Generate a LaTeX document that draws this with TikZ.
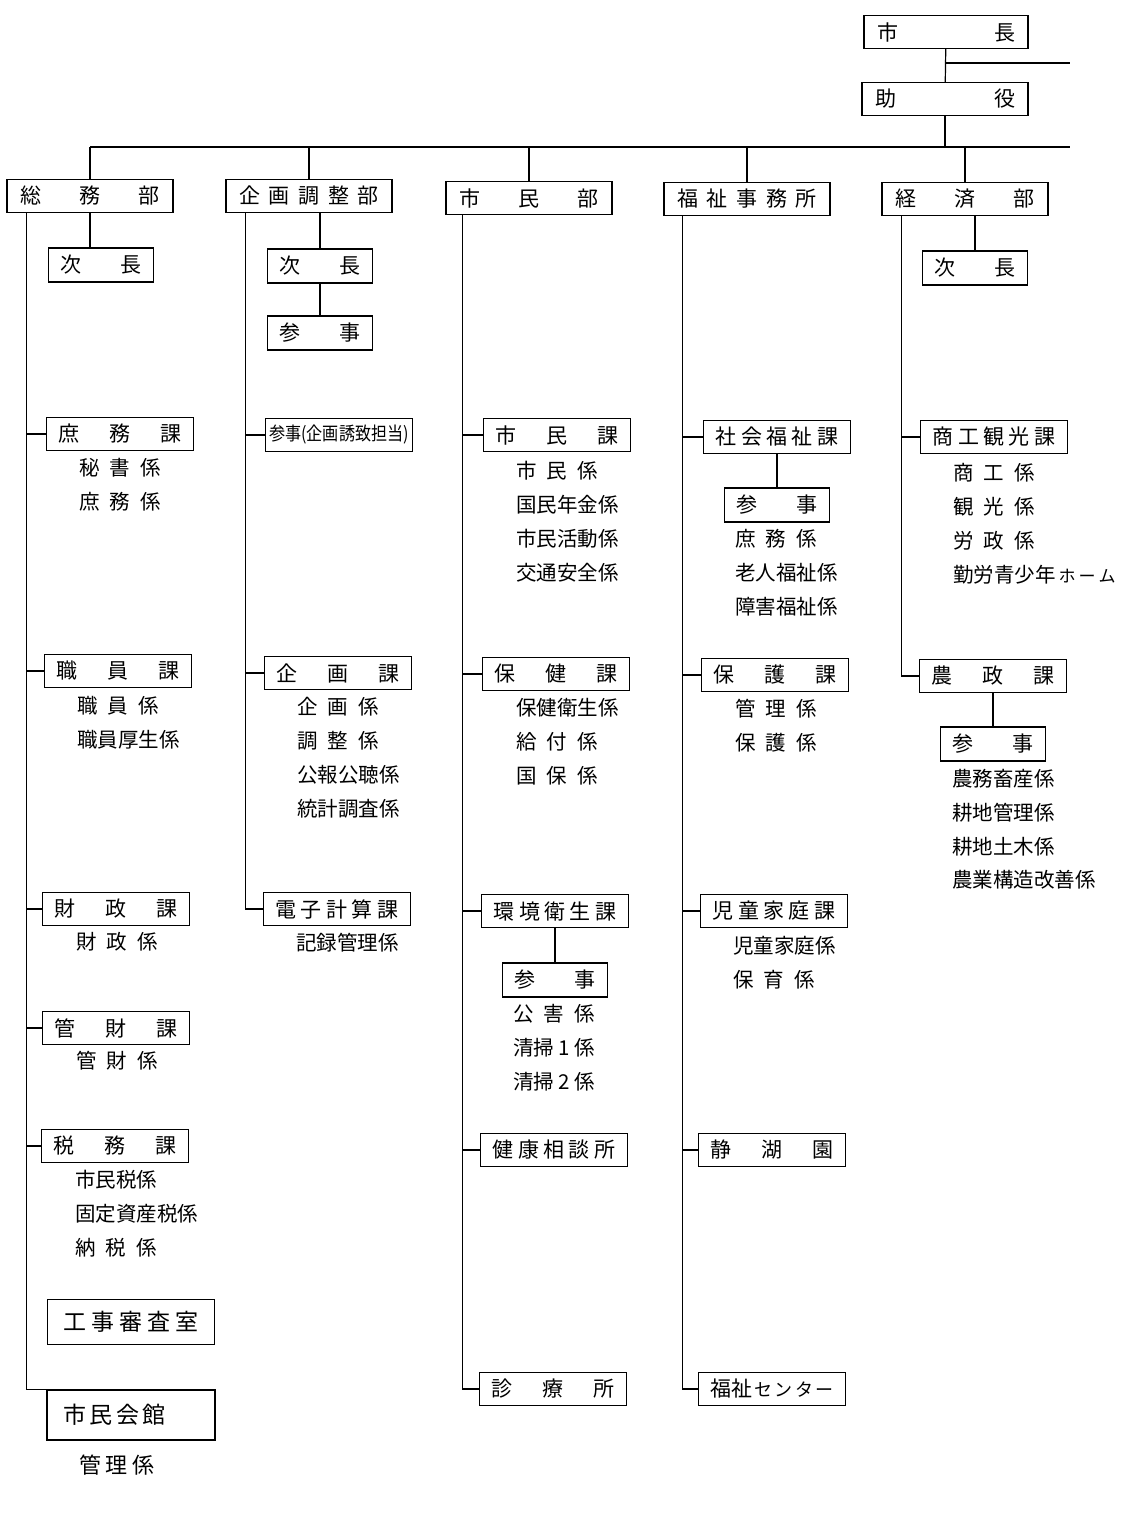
\documentclass[tikz,border=0pt]{standalone}
\usepackage{fontspec}
\setmainfont{Noto Sans CJK JP}
\usetikzlibrary{calc}
\tikzset{
  bubox/.style={draw,line width=1.3pt,minimum width=166pt,minimum height=33pt,inner sep=0pt,font=\fontsize{21}{21}\selectfont},
  kabox/.style={bubox,minimum width=147pt},
  jibox/.style={bubox,minimum width=105pt,minimum height=34pt},
  kakari/.style={anchor=west,inner sep=0pt,font=\fontsize{20.5}{21}\selectfont},
  conn/.style={line width=1.2pt}
}
\newcommand{\spr}[2]{\hbox to #1pt{#2}}

\begin{document}
\begin{tikzpicture}[x=1pt,y=-1pt]
  \useasboundingbox (0,0) rectangle (1130,1520);
  % top
  \node[bubox,minimum width=164pt] (shicho) at (946,32) {\spr{138}{市\hfill 長}};
  \node[bubox] (joyaku) at (945,99) {\spr{140}{助\hfill 役}};
  \coordinate (migi) at (1070,63);
  \coordinate (busR) at (1070,147);
  \draw[conn] (shicho) -- (joyaku);
  \draw[conn] (shicho.south |- migi) -- (migi);
  \draw[conn] (joyaku.south) -- (joyaku.south |- busR);

  % departments
  \node[bubox] (somu) at (90,196) {\spr{140}{総\hfill 務\hfill 部}};
  \node[bubox] (kikaku) at (309,196) {\spr{140}{企\hfill 画\hfill 調\hfill 整\hfill 部}};
  \node[bubox] (shimin) at (529,198) {\spr{140}{市\hfill 民\hfill 部}};
  \node[bubox] (fukushi) at (747,199) {\spr{140}{福\hfill 祉\hfill 事\hfill 務\hfill 所}};
  \node[bubox] (keizai) at (965,199) {\spr{140}{経\hfill 済\hfill 部}};
  \draw[conn] (somu.north |- busR) -- (busR);
  \draw[conn] (somu.north) -- (somu.north |- busR);
  \draw[conn] (kikaku.north) -- (kikaku.north |- busR);
  \draw[conn] (shimin.north) -- (shimin.north |- busR);
  \draw[conn] (fukushi.north) -- (fukushi.north |- busR);
  \draw[conn] (keizai.north) -- (keizai.north |- busR);

  % 総務部
  \coordinate (s1) at ($(somu.south west)+(20,0)$);
  \node[jibox] (somuji) at (101,265) {\spr{81}{次\hfill 長}};
  \draw[conn] (somu.south) -- (somu.south |- somuji.north);
  \node[kabox] (shomuka) at (120,434) {\spr{123}{庶\hfill 務\hfill 課}};
  \node[kakari] (hisho) at (79,468) {\spr{82}{秘\hfill 書\hfill 係}};
  \node[kakari] (shomu1) at (79,502) {\spr{82}{庶\hfill 務\hfill 係}};
  \node[kabox] (shokuinka) at (118,671) {\spr{123}{職\hfill 員\hfill 課}};
  \node[kakari] (shokuin1) at (77,706) {\spr{82}{職\hfill 員\hfill 係}};
  \node[kakari] (kosei) at (77,740) {職員厚生係};
  \node[kabox] (zaiseika) at (116,909) {\spr{123}{財\hfill 政\hfill 課}};
  \node[kakari] (zaisei1) at (76,942) {\spr{82}{財\hfill 政\hfill 係}};
  \node[kabox] (kanzaika) at (116,1028) {\spr{123}{管\hfill 財\hfill 課}};
  \node[kakari] (kanzai1) at (76,1061) {\spr{82}{管\hfill 財\hfill 係}};
  \node[kabox] (zeimuka) at (115,1146) {\spr{123}{税\hfill 務\hfill 課}};
  \node[kakari] (shiminzei) at (75,1180) {市民税係};
  \node[kakari] (kotei) at (75,1214) {固定資産税係};
  \node[kakari] (nozei) at (75,1248) {\spr{82}{納\hfill 税\hfill 係}};
  \node[bubox,minimum width=167pt,minimum height=45pt,font=\fontsize{23}{23}\selectfont] (koji) at (131,1322) {\spr{135}{工\hfill 事\hfill 審\hfill 査\hfill 室}};
  \node[bubox,minimum width=168pt,minimum height=50pt,font=\fontsize{23}{23}\selectfont] (kaikan) at (131,1415) {\spr{135}{\spr{102}{市\hfill 民\hfill 会\hfill 館}\hfill}};
  \node[kakari,anchor=center,font=\fontsize{22}{22}\selectfont] (kanri0) at (117,1465) {\spr{76}{管\hfill 理\hfill 係}};
  \draw[conn] (s1) |- (kaikan.north west);
  \draw[conn] (s1 |- shomuka) -- (shomuka.west);
  \draw[conn] (s1 |- shokuinka) -- (shokuinka.west);
  \draw[conn] (s1 |- zaiseika) -- (zaiseika.west);
  \draw[conn] (s1 |- kanzaika) -- (kanzaika.west);
  \draw[conn] (s1 |- zeimuka) -- (zeimuka.west);

  % 企画調整部
  \coordinate (s2) at ($(kikaku.south west)+(20,0)$);
  \node[jibox] (kikakuji) at (320,266) {\spr{81}{次\hfill 長}};
  \node[jibox] (kikakusan) at (320,333) {\spr{81}{参\hfill 事}};
  \draw[conn] (kikakuji.north) -- (kikakuji.north |- kikaku.south);
  \draw[conn] (kikakuji) -- (kikakusan);
  \node[kabox,font=\fontsize{18.5}{18.5}\selectfont] (yuchi) at (339,435) {\scalebox{0.87}[1]{参事(企画誘致担当)}};
  \node[kabox] (kikakuka) at (338,673) {\spr{123}{企\hfill 画\hfill 課}};
  \node[kakari] (kikaku1) at (297,707) {\spr{82}{企\hfill 画\hfill 係}};
  \node[kakari] (chosei) at (297,741) {\spr{82}{調\hfill 整\hfill 係}};
  \node[kakari] (koho) at (297,775) {公報公聴係};
  \node[kakari] (tokei) at (297,809) {統計調査係};
  \node[kabox] (denshi) at (337,909) {\spr{123}{電\hfill 子\hfill 計\hfill 算\hfill 課}};
  \node[kakari] (kiroku) at (296,943) {記録管理係};
  \draw[conn] (s2) |- (denshi.west);
  \draw[conn] (s2 |- yuchi) -- (yuchi.west);
  \draw[conn] (s2 |- kikakuka) -- (kikakuka.west);

  % 市民部
  \coordinate (s3) at ($(shimin.south west)+(17,0)$);
  \node[kabox] (shiminka) at (557,435) {\spr{123}{市\hfill 民\hfill 課}};
  \node[kakari] (shimin1) at (516,471) {\spr{82}{市\hfill 民\hfill 係}};
  \node[kakari] (nenkin) at (516,505) {国民年金係};
  \node[kakari] (katsudo) at (516,539) {市民活動係};
  \node[kakari] (kotsu) at (516,573) {交通安全係};
  \node[kabox] (hokenka) at (556,674) {\spr{123}{保\hfill 健\hfill 課}};
  \node[kakari] (eisei) at (516,708) {保健衛生係};
  \node[kakari] (kyufu) at (516,742) {\spr{82}{給\hfill 付\hfill 係}};
  \node[kakari] (kokuho) at (516,776) {\spr{82}{国\hfill 保\hfill 係}};
  \node[kabox] (kankyo) at (555,911) {\spr{123}{環\hfill 境\hfill 衛\hfill 生\hfill 課}};
  \node[jibox] (kankyoji) at (555,980) {\spr{81}{参\hfill 事}};
  \draw[conn] (kankyo) -- (kankyoji);
  \node[kakari] (kogai) at (513,1014) {\spr{82}{公\hfill 害\hfill 係}};
  \node[kakari] (seiso1) at (513,1048) {\spr{82}{清掃\hfill 1\hfill 係}};
  \node[kakari] (seiso2) at (513,1082) {\spr{82}{清掃\hfill 2\hfill 係}};
  \node[kabox] (kenko) at (554,1150) {\spr{123}{健\hfill 康\hfill 相\hfill 談\hfill 所}};
  \node[kabox] (shinryo) at (553,1389) {\spr{123}{診\hfill 療\hfill 所}};
  \draw[conn] (s3) |- (shinryo.west);
  \draw[conn] (s3 |- shiminka) -- (shiminka.west);
  \draw[conn] (s3 |- hokenka) -- (hokenka.west);
  \draw[conn] (s3 |- kankyo) -- (kankyo.west);
  \draw[conn] (s3 |- kenko) -- (kenko.west);

  % 福祉事務所
  \coordinate (s4) at ($(fukushi.south west)+(19,0)$);
  \node[kabox] (shakai) at (777,437) {\spr{123}{社\hfill 会\hfill 福\hfill 祉\hfill 課}};
  \node[jibox] (shakaiji) at (777,505) {\spr{81}{参\hfill 事}};
  \draw[conn] (shakai) -- (shakaiji);
  \node[kakari] (shomu2) at (735,539) {\spr{82}{庶\hfill 務\hfill 係}};
  \node[kakari] (rojin) at (735,573) {老人福祉係};
  \node[kakari] (shogai) at (735,607) {障害福祉係};
  \node[kabox] (hogoka) at (775,675) {\spr{123}{保\hfill 護\hfill 課}};
  \node[kakari] (kanri1) at (735,709) {\spr{82}{管\hfill 理\hfill 係}};
  \node[kakari] (hogo1) at (735,743) {\spr{82}{保\hfill 護\hfill 係}};
  \node[kabox] (jido) at (774,911) {\spr{123}{児\hfill 童\hfill 家\hfill 庭\hfill 課}};
  \node[kakari] (jido1) at (733,946) {児童家庭係};
  \node[kakari] (hoiku) at (733,980) {\spr{82}{保\hfill 育\hfill 係}};
  \node[kabox] (seiko) at (772,1150) {\spr{123}{静\hfill 湖\hfill 園}};
  \node[kabox] (fcenter) at (772,1389) {\spr{123}{福祉\hfill{\fontsize{18}{18}\selectfont セ\hfill ン\hfill タ\hfill ー}}};
  \draw[conn] (s4) |- (fcenter.west);
  \draw[conn] (s4 |- shakai) -- (shakai.west);
  \draw[conn] (s4 |- hogoka) -- (hogoka.west);
  \draw[conn] (s4 |- jido) -- (jido.west);
  \draw[conn] (s4 |- seiko) -- (seiko.west);

  % 経済部
  \coordinate (s5) at ($(keizai.south west)+(20,0)$);
  \node[jibox] (keizaiji) at (975,268) {\spr{81}{次\hfill 長}};
  \draw[conn] (keizaiji.north) -- (keizaiji.north |- keizai.south);
  \node[kabox] (shoko) at (994,437) {\spr{123}{商\hfill 工\hfill 観\hfill 光\hfill 課}};
  \node[kakari] (shoko1) at (953,473) {\spr{82}{商\hfill 工\hfill 係}};
  \node[kakari] (kanko) at (953,507) {\spr{82}{観\hfill 光\hfill 係}};
  \node[kakari] (rosei) at (953,541) {\spr{82}{労\hfill 政\hfill 係}};
  \node[kakari] (kinro) at (953,575) {勤労青少年{\fontsize{17}{17}\selectfont\spr{60}{\hspace{3pt}ホ\hfill ー\hfill ム}}};
  \node[kabox] (noseika) at (993,676) {\spr{123}{農\hfill 政\hfill 課}};
  \node[jibox] (noseiji) at (993,744) {\spr{81}{参\hfill 事}};
  \draw[conn] (noseika) -- (noseiji);
  \node[kakari] (nomu) at (952,779) {農務畜産係};
  \node[kakari] (kochi1) at (952,813) {耕地管理係};
  \node[kakari] (kochi2) at (952,847) {耕地土木係};
  \node[kakari] (kozo) at (952,880) {農業構造改善係};
  \draw[conn] (s5) |- (noseika.west);
  \draw[conn] (s5 |- shoko) -- (shoko.west);
\end{tikzpicture}
\end{document}
